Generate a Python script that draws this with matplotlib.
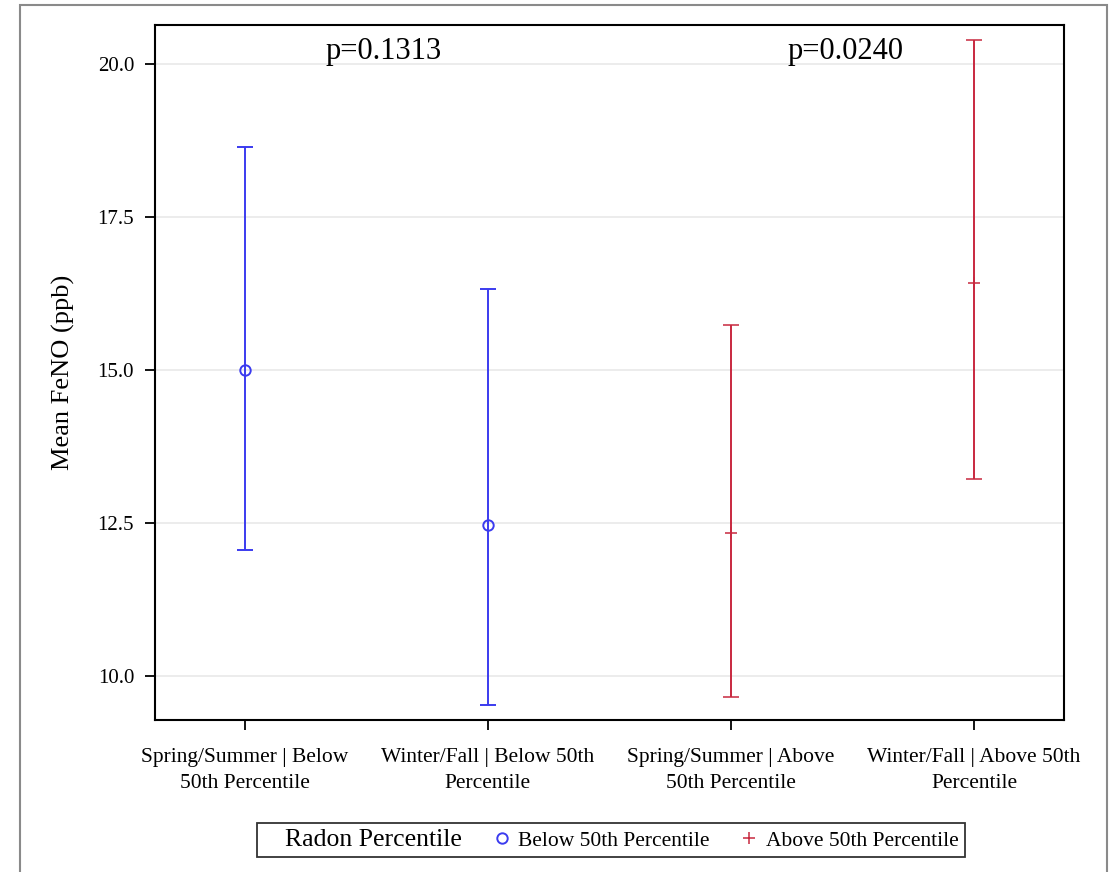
import matplotlib
matplotlib.use('Agg')
import matplotlib.pyplot as plt
from matplotlib.lines import Line2D
from matplotlib.patches import Rectangle

# data
groups = ['Spring/Summer | Below\n50th Percentile',
          'Winter/Fall | Below 50th\nPercentile',
          'Spring/Summer | Above\n50th Percentile',
          'Winter/Fall | Above 50th\nPercentile']
mean_feno = [15.00, 12.47, 12.33, 16.42]
lower_ci = [12.06, 9.53, 9.66, 13.22]
upper_ci = [18.64, 16.32, 15.73, 20.40]
radon_group = ['Below 50th Percentile', 'Below 50th Percentile',
               'Above 50th Percentile', 'Above 50th Percentile']
p_values = ['p=0.1313', 'p=0.0240']
p_x = [0.57, 2.47]

plt.rcParams['font.family'] = ['Liberation Serif', 'DejaVu Serif']

BLUE = '#3b3bef'
RED = '#c8283f'
style = {'Below 50th Percentile': dict(color=BLUE, marker='o', ms=7.5, mfc='none', mew=1.4),
         'Above 50th Percentile': dict(color=RED, marker='+', ms=9, mew=1.1)}

fig = plt.figure(figsize=(11.14, 8.72), dpi=100)
ax = fig.add_axes([155 / 1114, 1 - 720 / 872, (1064 - 155) / 1114, (720 - 25) / 872])

# outer gray frame like the original export
fig.patches.append(Rectangle((20 / 1114, -0.02), (1107 - 20) / 1114, 1.02 - 5 / 872,
                             transform=fig.transFigure, fill=False,
                             edgecolor='#8a8a8a', lw=1.5))

for i, g in enumerate(groups):
    st = style[radon_group[i]]
    ax.errorbar(i, mean_feno[i],
                yerr=[[mean_feno[i] - lower_ci[i]], [upper_ci[i] - mean_feno[i]]],
                color=st['color'], ecolor=st['color'], elinewidth=1.4,
                capsize=6, capthick=1.4, marker=st['marker'], ms=st['ms'],
                mfc=st['mfc'] if 'mfc' in st else st['color'], mew=st['mew'],
                ls='none')

for x, t in zip(p_x, p_values):
    ax.text(x, 20.2, t, ha='center', va='center', fontsize=22)

ax.set_xlim(-0.37, 3.37)
ax.set_ylim(9.28, 20.64)
ax.set_xticks(range(len(groups)))
ax.set_xticklabels(groups, fontsize=15.5, linespacing=1.5)
ax.set_yticks([10.0, 12.5, 15.0, 17.5, 20.0])
ax.set_yticklabels(['%.1f' % v for v in [10.0, 12.5, 15.0, 17.5, 20.0]], fontsize=15)
ax.tick_params(direction='out', length=7, width=1.3, pad=8)
ax.tick_params(axis='x', pad=13)
ax.yaxis.grid(True, color='#e9e9e9', lw=1.2)
ax.set_axisbelow(True)
for sp in ax.spines.values():
    sp.set_linewidth(1.5)
ax.set_ylabel('Mean FeNO (ppb)', fontsize=19, labelpad=16)

handles = [Line2D([], [], ls='none'),
           Line2D([], [], ls='none', **style['Below 50th Percentile']),
           Line2D([], [], ls='none', **style['Above 50th Percentile'])]
labels = ['Radon Percentile', 'Below 50th Percentile', 'Above 50th Percentile']
leg = fig.legend(handles, labels, ncol=3, loc='center', bbox_to_anchor=(611 / 1114, 1 - 840 / 872),
                 fontsize=15.5, frameon=True, fancybox=False, edgecolor='black',
                 handlelength=0.5, handletextpad=0.5, columnspacing=1.6,
                 borderpad=0.3, borderaxespad=0)
leg.get_frame().set_linewidth(1.3)
leg.get_texts()[0].set_fontsize(18.5)

fig.savefig('out.png', dpi=100)
